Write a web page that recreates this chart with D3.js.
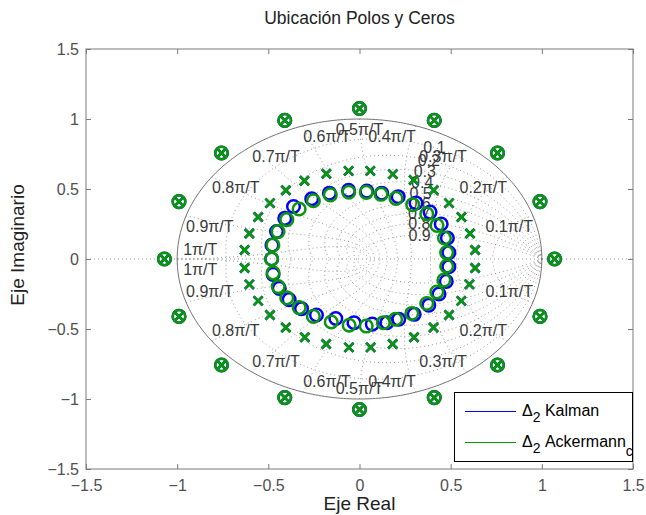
<!DOCTYPE html>
<html>
<head>
<meta charset="utf-8">
<script src="https://cdn.jsdelivr.net/npm/d3@7"></script>
<style>
  body { margin: 0; background: #fff; }
  text { font-family: "Liberation Sans", Arial, Helvetica, sans-serif; }
</style>
</head>
<body>
<svg id="chart" width="646" height="515"></svg>
<script>
// ---- axis ticks ----
const tickValues = [-1.5, -1, -0.5, 0, 0.5, 1, 1.5];
const tickLabels = ["\u22121.5", "\u22121", "\u22120.5", "0", "0.5", "1", "1.5"];

// ---- z-plane grid levels ----
const zetaLevels = [0.1, 0.2, 0.3, 0.4, 0.5, 0.6, 0.7, 0.8, 0.9];
const zetaLabels = ["0.1", "0.2", "0.3", "0.4", "0.5", "0.6", "0.7", "0.8", "0.9"];
const wnLevels = [0.1, 0.2, 0.3, 0.4, 0.5, 0.6, 0.7, 0.8, 0.9, 1];           // x pi/T
const wnLabels = ["0.1\u03c0/T", "0.2\u03c0/T", "0.3\u03c0/T", "0.4\u03c0/T", "0.5\u03c0/T",
                  "0.6\u03c0/T", "0.7\u03c0/T", "0.8\u03c0/T", "0.9\u03c0/T", "1\u03c0/T"];

// ---- pole / zero locations ----
// outer ring: shared poles and zeros of both designs
const outerRe = [1.07, 0.99, 0.757, 0.41, 0.0, -0.41, -0.757, -0.99, -1.07, -0.99, -0.757, -0.41, 0.0, 0.41, 0.757, 0.99];
const outerIm = [0.0, 0.41, 0.757, 0.99, 1.075, 0.99, 0.757, 0.41, 0.0, -0.41, -0.757, -0.99, -1.075, -0.99, -0.757, -0.41];

// inner pole ring (identical for both designs)
const poleRingRe = [0.634, 0.606, 0.559, 0.491, 0.407, 0.297, 0.183, 0.059, -0.060, -0.182, -0.302, -0.404, -0.491, -0.556, -0.604, -0.630,
                    -0.630, -0.604, -0.556, -0.491, -0.404, -0.300, -0.183, -0.058, 0.061, 0.182, 0.299, 0.406, 0.491, 0.558, 0.603, 0.634];
const poleRingIm = [0.064, 0.182, 0.300, 0.399, 0.491, 0.564, 0.606, 0.630, 0.630, 0.609, 0.559, 0.491, 0.399, 0.300, 0.182, 0.064,
                    -0.064, -0.181, -0.299, -0.400, -0.489, -0.559, -0.607, -0.631, -0.631, -0.607, -0.559, -0.489, -0.400, -0.299, -0.181, -0.064];

// inner zero ring, Ackermann design
const zeroAckRe = [0.478, 0.466, 0.425, 0.369, 0.292, 0.200, 0.118, 0.037, -0.059, -0.160, -0.253, -0.331, -0.399, -0.447, -0.475, -0.482,
                   -0.474, -0.446, -0.399, -0.331, -0.253, -0.155, -0.057, 0.037, 0.131, 0.198, 0.287, 0.369, 0.424, 0.463, 0.478];
const zeroAckIm = [0.046, 0.150, 0.240, 0.322, 0.388, 0.433, 0.462, 0.476, 0.477, 0.458, 0.416, 0.357, 0.281, 0.196, 0.099, 0.000,
                   -0.099, -0.197, -0.278, -0.347, -0.410, -0.450, -0.473, -0.479, -0.455, -0.430, -0.389, -0.318, -0.236, -0.151, -0.052];

// inner zero ring, Kalman design
const zeroKalRe = [0.490, 0.482, 0.448, 0.387, 0.310, 0.212, 0.122, 0.040, -0.060, -0.165, -0.262, -0.362, -0.410, -0.455, -0.480, -0.482,
                   -0.474, -0.440, -0.386, -0.318, -0.236, -0.130, -0.030, 0.070, 0.150, 0.215, 0.300, 0.380, 0.436, 0.476, 0.490];
const zeroKalIm = [0.046, 0.150, 0.250, 0.335, 0.400, 0.445, 0.470, 0.485, 0.490, 0.470, 0.430, 0.375, 0.290, 0.196, 0.099, 0.000,
                   -0.110, -0.210, -0.290, -0.355, -0.400, -0.425, -0.455, -0.465, -0.455, -0.430, -0.395, -0.330, -0.250, -0.160, -0.055];

const series = [
  { name: "Kalman", sub: "2", tail: " Kalman", tailSub: "", color: "#0000ff",
    poleRe: outerRe.concat(poleRingRe), poleIm: outerIm.concat(poleRingIm),
    zeroRe: outerRe.concat(zeroKalRe), zeroIm: outerIm.concat(zeroKalIm) },
  { name: "Ackermann", sub: "2", tail: " Ackermann", tailSub: "c", color: "#0a960a",
    poleRe: outerRe.concat(poleRingRe), poleIm: outerIm.concat(poleRingIm),
    zeroRe: outerRe.concat(zeroAckRe), zeroIm: outerIm.concat(zeroAckIm) }
];

// ---- layout ----
const svg = d3.select("#chart");
const L = 86, R = 633, T = 49, B = 469;
const x = d3.scaleLinear().domain([-1.5, 1.5]).range([L, R]);
const y = d3.scaleLinear().domain([-1.5, 1.5]).range([B, T]);

const axisColor = "#7a7a7a";
const textColor = "#3a3a3a";

svg.append("defs").append("clipPath").attr("id", "plotClip")
  .append("rect").attr("x", L).attr("y", T).attr("width", R - L).attr("height", B - T);

const plot = svg.append("g").attr("clip-path", "url(#plotClip)");

// ---- z-plane grid ----
const line = d3.line().x(d => x(d[0])).y(d => y(d[1]));
const dotted = { stroke: "#737373", "stroke-width": 0.8, "stroke-dasharray": "0.9,3.1", fill: "none" };
function styled(sel, st) { Object.entries(st).forEach(([k, v]) => sel.attr(k, v)); return sel; }

// real axis
styled(plot.append("path").datum([[-1.5, 0], [1.5, 0]]).attr("d", line), dotted);

// constant damping spirals z = exp(theta * (-m + j)), m = tan(asin(zeta))
zetaLevels.forEach(z => {
  const m = Math.tan(Math.asin(z));
  const up = d3.range(0, 181).map(k => {
    const th = Math.PI * k / 180, r = Math.exp(-m * th);
    return [r * Math.cos(th), r * Math.sin(th)];
  });
  styled(plot.append("path").datum(up).attr("d", line), dotted);
  styled(plot.append("path").datum(up.map(p => [p[0], -p[1]])).attr("d", line), dotted);
});

// constant natural frequency curves z = exp(wn * e^{j phi}), phi in [pi/2, pi]
wnLevels.forEach(w => {
  const wn = w * Math.PI;
  const up = d3.range(0, 91).map(k => {
    const ph = Math.PI / 2 + Math.PI / 2 * k / 90;
    const r = Math.exp(wn * Math.cos(ph)), a = wn * Math.sin(ph);
    return [r * Math.cos(a), r * Math.sin(a)];
  });
  styled(plot.append("path").datum(up).attr("d", line), dotted);
  styled(plot.append("path").datum(up.map(p => [p[0], -p[1]])).attr("d", line), dotted);
});

// unit circle
const circ = d3.range(0, 361).map(k => [Math.cos(k * Math.PI / 180), Math.sin(k * Math.PI / 180)]);
plot.append("path").datum(circ).attr("d", line)
  .attr("fill", "none").attr("stroke", "#707070").attr("stroke-width", 1);

// ---- grid labels ----
const gl = svg.append("g").attr("font-size", 16).attr("fill", textColor);
// damping labels sit on each spiral at wn = 0.35 pi
zetaLevels.forEach((z, i) => {
  const wn = 0.35 * Math.PI;
  const th = wn * Math.sqrt(1 - z * z), r = Math.exp(-z * wn);
  gl.append("text").attr("x", x(r * Math.cos(th))).attr("y", y(r * Math.sin(th)))
    .attr("text-anchor", "middle").attr("dy", "0.35em").text(zetaLabels[i]);
});
// natural frequency labels at the unit circle end of each curve
wnLevels.forEach((w, i) => {
  const a = w * Math.PI;
  const px = x(Math.cos(a)), pyU = y(Math.sin(a)), pyL = y(-Math.sin(a));
  const anchor = w < 0.5 ? "end" : (w === 0.5 ? "middle" : "start");
  const dx = w === 1 ? 6 : 0;
  const upBase = w === 1 ? pyU - 4 : pyU + 16;
  const loBase = w === 1 ? pyL + 16 : pyL - 5;
  gl.append("text").attr("x", px + dx).attr("y", upBase).attr("text-anchor", anchor).text(wnLabels[i]);
  gl.append("text").attr("x", px + dx).attr("y", loBase).attr("text-anchor", anchor).text(wnLabels[i]);
});

// ---- poles (x) and zeros (o) ----
const mk = svg.append("g").attr("clip-path", "url(#plotClip)");
series.forEach(s => {
  const poles = s.poleRe.map((v, i) => [v, s.poleIm[i]]);
  const zeros = s.zeroRe.map((v, i) => [v, s.zeroIm[i]]);
  const h = 4.5;
  mk.append("g").selectAll("path").data(poles).join("path")
    .attr("d", d => {
      const cx = x(d[0]), cy = y(d[1]);
      return `M${cx - h},${cy - h}L${cx + h},${cy + h}M${cx - h},${cy + h}L${cx + h},${cy - h}`;
    })
    .attr("fill", "none").attr("stroke", s.color).attr("stroke-width", 2.6);
  mk.append("g").selectAll("circle").data(zeros).join("circle")
    .attr("cx", d => x(d[0])).attr("cy", d => y(d[1])).attr("r", 6.3)
    .attr("fill", "none").attr("stroke", s.color).attr("stroke-width", 2.5);
});

// ---- axes box and ticks ----
const axG = svg.append("g");
const axBottom = axG.append("g").attr("transform", `translate(0,${B})`)
  .call(d3.axisBottom(x).tickValues(tickValues).tickSizeInner(-5).tickSizeOuter(0)
        .tickPadding(11).tickFormat((d, i) => tickLabels[i]));
const axLeft = axG.append("g").attr("transform", `translate(${L},0)`)
  .call(d3.axisLeft(y).tickValues(tickValues).tickSizeInner(-5).tickSizeOuter(0)
        .tickPadding(7).tickFormat((d, i) => tickLabels[i]));
const axTop = axG.append("g").attr("transform", `translate(0,${T})`)
  .call(d3.axisTop(x).tickValues(tickValues).tickSizeInner(-5).tickSizeOuter(0).tickFormat(""));
const axRight = axG.append("g").attr("transform", `translate(${R},0)`)
  .call(d3.axisRight(y).tickValues(tickValues).tickSizeInner(-5).tickSizeOuter(0).tickFormat(""));
[axBottom, axLeft, axTop, axRight].forEach(g => {
  g.attr("font-family", null).attr("font-size", 16);
  g.select(".domain").remove();
  g.selectAll(".tick line").attr("stroke", axisColor);
  g.selectAll(".tick text").attr("fill", "#505050").attr("font-size", 16);
});
axG.append("rect").attr("x", L).attr("y", T).attr("width", R - L).attr("height", B - T)
  .attr("fill", "none").attr("stroke", axisColor).attr("stroke-width", 1);

// ---- titles ----
svg.append("text").attr("x", (L + R) / 2).attr("y", 24).attr("text-anchor", "middle")
  .attr("font-size", 17.5).attr("fill", "#222").text("Ubicación Polos y Ceros");
svg.append("text").attr("x", (L + R) / 2).attr("y", 510).attr("text-anchor", "middle")
  .attr("font-size", 19).attr("fill", "#222").text("Eje Real");
svg.append("text").attr("transform", `translate(24,${(T + B) / 2 - 14}) rotate(-90)`).attr("text-anchor", "middle")
  .attr("font-size", 19).attr("fill", "#222").text("Eje Imaginario");

// ---- legend ----
const lg = svg.append("g");
lg.append("rect").attr("x", 454.5).attr("y", 392.5).attr("width", 178).attr("height", 69)
  .attr("fill", "#fff").attr("stroke", "#000").attr("stroke-width", 1);
series.forEach((s, i) => {
  const yy = 411.5 + i * 31;
  lg.append("line").attr("x1", 465).attr("x2", 516).attr("y1", yy).attr("y2", yy)
    .attr("stroke", s.color).attr("stroke-width", 1);
  const t = lg.append("text").attr("x", 522).attr("y", yy + 4.5).attr("font-size", 16).attr("fill", "#000");
  t.append("tspan").text("\u0394");
  t.append("tspan").attr("font-size", 14).attr("dy", 6).text(s.sub);
  t.append("tspan").attr("dy", -6).text(s.tail);
  if (s.tailSub) t.append("tspan").attr("font-size", 14).attr("dy", 9).text(s.tailSub);
});
</script>
</body>
</html>
